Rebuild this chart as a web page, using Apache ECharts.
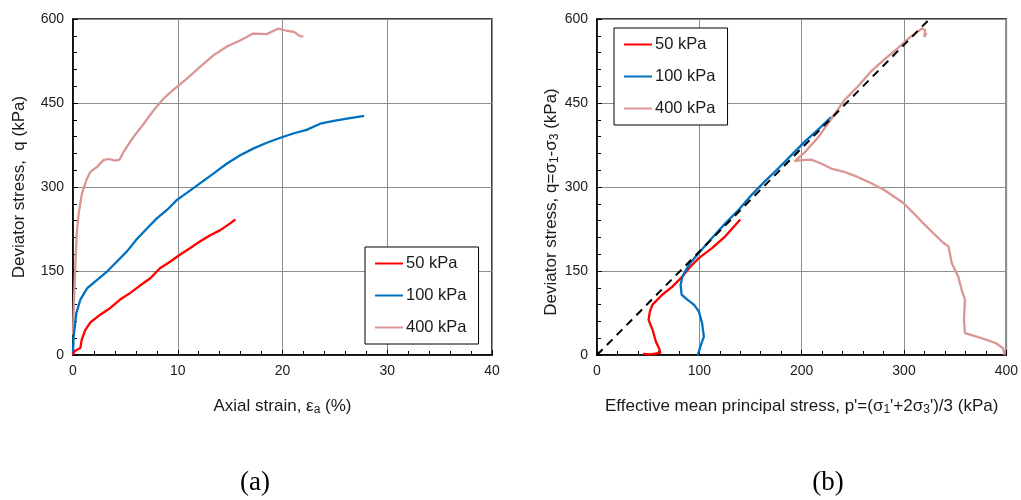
<!DOCTYPE html>
<html>
<head>
<meta charset="utf-8">
<script src="https://cdn.jsdelivr.net/npm/echarts@6/dist/echarts.min.js"></script>
<style>
html,body{margin:0;padding:0;background:#fff;}
#chart{width:1021px;height:500px;}
</style>
</head>
<body>
<div id="chart"></div>
<script>
// ---- Data ----
const seriesNames = ['50 kPa', '100 kPa', '400 kPa'];
const seriesColors = ['#ff0000', '#0070c0', '#d99694'];

// (a) axial strain (%) vs deviator stress q (kPa)
const strainQ50 = [[0,0],[0.13,6.5],[0.38,9.5],[0.7,12.5],[0.83,27],[1.18,45],[1.65,58],[2.6,72],[3.56,84],[4.5,99],[5.47,111],[6.4,124],[7.38,137],[8.3,155],[9.3,167],[10.2,179],[11.2,191],[12.15,203],[13.1,214],[14.06,223],[15.0,235],[15.5,242]];
const strainQ100 = [[0,0],[0.06,33],[0.32,75],[0.7,99],[1.34,119],[2.3,134],[3.25,149],[4.2,167],[5.15,185],[6.1,207],[7.06,226],[8.0,244],[8.97,259],[9.93,277],[10.9,290],[12.15,307],[13.4,324],[14.7,342],[16.0,357],[17.25,369],[18.5,379],[19.8,388],[21.1,396],[22.3,402],[23.6,413],[24.9,418],[26.15,422],[27.8,427]];
const strainQ400 = [[0,36],[0.1,100],[0.22,158],[0.35,215],[0.54,253],[0.86,289],[1.27,312],[1.65,327],[2.3,336],[2.9,348],[3.4,350],[4.0,347],[4.45,349],[4.84,363],[5.8,390],[6.75,413],[7.7,437],[8.65,458],[9.6,474],[10.9,494],[12.15,515],[13.4,535],[14.7,551],[16.0,562],[17.2,574],[18.5,573],[19.6,583],[20.4,579],[21.1,577],[21.7,569],[22.0,569]];

// (b) effective mean principal stress p' (kPa) vs q (kPa)
const pQ50 = [[45,2],[52,1],[62,4],[60.8,11],[57.5,24],[54.3,45],[50.4,63],[51.7,78],[54.3,90],[64,108],[73.7,122],[83.4,140],[91.4,158],[99.5,173],[112.4,191],[125.4,212],[140,242]];
const pQ100 = [[98.5,0],[101,15],[104.4,33],[102.7,57],[99.5,78],[94.7,90],[88.2,99],[82.7,108],[81.7,125],[83.4,140],[89.8,161],[99.5,182],[112.4,209],[125.4,235],[138.3,259],[151.2,286],[164,310],[177,333],[190,357],[203,381],[215.8,402],[228.8,425]];
const pQ400 = [[398.4,0],[396.8,12],[390,21],[380.6,27],[371,33],[359.6,39],[358,42],[358.6,63],[359.6,99],[356.4,116],[353,140],[346.7,164],[343.5,194],[338.6,200],[329,217],[319,235],[309.5,253],[299.8,271],[290,283],[280.4,295],[267.5,307],[254.6,318],[241.7,327],[228.8,333],[219,342],[209.4,349],[199.7,348],[193.2,346],[203,362],[215.8,388],[228.8,421],[241.7,455],[254.6,479],[267.5,506],[280.4,527],[293.4,547],[306.3,568],[317.6,583],[320.8,580],[319.8,568],[322,575]];
const failureLine = [[0,0],[325,600]];

const xTicksA = {min:0, max:40, interval:10};
const xTicksB = {min:0, max:400, interval:100};
const yTicks = {min:0, max:600, interval:150};

// ---- Chart ----
const FONT = 'Liberation Sans, Arial, sans-serif';
const TXT = '#1a1a1a';
const NAME_SIZE = 17;

function valueAxis(t, gridIndex, extra) {
  return Object.assign({
    type: 'value', gridIndex: gridIndex,
    min: t.min, max: t.max, interval: t.interval,
    axisLine: {show: true, onZero: false, lineStyle: {color: '#000', width: 1.5}},
    axisTick: {show: true, inside: true, length: 5, lineStyle: {color: '#000'}},
    minorTick: {show: true, splitNumber: 5, length: 4, lineStyle: {color: '#000'}},
    splitLine: {show: true, lineStyle: {color: '#8c8c8c', width: 1}},
    axisLabel: {color: TXT, fontFamily: FONT, fontSize: 14, margin: 9},
    nameLocation: 'middle'
  }, extra);
}

const subRich = {
  sub: {fontSize: 12, fontFamily: FONT, color: TXT, verticalAlign: 'bottom', padding: [7,0,0,0]}
};
function nameStyle(extra) {
  return Object.assign({color: TXT, fontFamily: FONT, fontSize: NAME_SIZE, rich: subRich}, extra || {});
}

const chart = echarts.init(document.getElementById('chart'), null, {renderer: 'canvas'});

function mkLine(name, data, color, xi, yi, z) {
  return {
    name: name, type: 'line', data: data, xAxisIndex: xi, yAxisIndex: yi,
    symbol: 'none', showSymbol: false, smooth: false, z: z || 2,
    lineStyle: {color: color, width: 2.3}, itemStyle: {color: color},
    emphasis: {disabled: true}, animation: false
  };
}

function mkLegend(left, top) {
  return {
    data: seriesNames.map(n => ({name: n, icon: 'rect'})),
    orient: 'vertical', left: left, top: top,
    padding: [7, 12, 7, 10], itemGap: 13, itemWidth: 28, itemHeight: 2,
    borderColor: '#000', borderWidth: 1, backgroundColor: '#fff',
    textStyle: {color: TXT, fontFamily: FONT, fontSize: 16.5, padding: [0,0,0,-2], lineHeight: 19},
    selectedMode: false
  };
}

const titleStyle = {fontFamily: 'Liberation Serif, Times New Roman, serif', fontWeight: 'normal', fontSize: 27, color: '#000'};

chart.setOption({
  animation: false,
  backgroundColor: '#fff',
  title: [
    {text: '(a)', left: 250, top: 464, textAlign: 'center', textStyle: titleStyle},
    {text: '(b)', left: 823, top: 464, textAlign: 'center', textStyle: titleStyle}
  ],
  grid: [
    {left: 73, top: 19, width: 419, height: 336, show: true, borderColor: '#000', borderWidth: 1.5, backgroundColor: 'transparent'},
    {left: 597, top: 19, width: 413, height: 336, show: true, borderColor: '#000', borderWidth: 1.5, backgroundColor: 'transparent'}
  ],
  legend: [mkLegend(365, 247), mkLegend(614, 28)],
  xAxis: [
    valueAxis(xTicksA, 0, {
      name: 'Axial strain, ε{sub|a} (%)', nameGap: 42, nameTextStyle: nameStyle()
    }),
    valueAxis(xTicksB, 1, {
      name: "Effective mean principal stress, p'=(σ{sub|1}'+2σ{sub|3}')/3 (kPa)", nameGap: 42, nameTextStyle: nameStyle()
    })
  ],
  yAxis: [
    valueAxis(yTicks, 0, {
      name: 'Deviator stress,  q (kPa)', nameGap: 45, nameTextStyle: nameStyle()
    }),
    valueAxis(yTicks, 1, {
      name: 'Deviator stress, q=σ{sub|1}-σ{sub|3} (kPa)', nameGap: 36,
      nameTextStyle: nameStyle({padding: [0, 30, 0, 0]})
    })
  ],
  series: [
    mkLine(seriesNames[2], strainQ400, seriesColors[2], 0, 0, 2),
    mkLine(seriesNames[1], strainQ100, seriesColors[1], 0, 0, 3),
    mkLine(seriesNames[0], strainQ50, seriesColors[0], 0, 0, 4),
    mkLine(seriesNames[0], pQ50, seriesColors[0], 1, 1, 2),
    mkLine(seriesNames[1], pQ100, seriesColors[1], 1, 1, 3),
    mkLine(seriesNames[2], pQ400, seriesColors[2], 1, 1, 4),
    {
      name: 'failure line', type: 'line', data: failureLine, xAxisIndex: 1, yAxisIndex: 1,
      symbol: 'none', z: 6, lineStyle: {color: '#000', width: 2, type: [8, 6]}, animation: false
    }
  ]
});
</script>
</body>
</html>
